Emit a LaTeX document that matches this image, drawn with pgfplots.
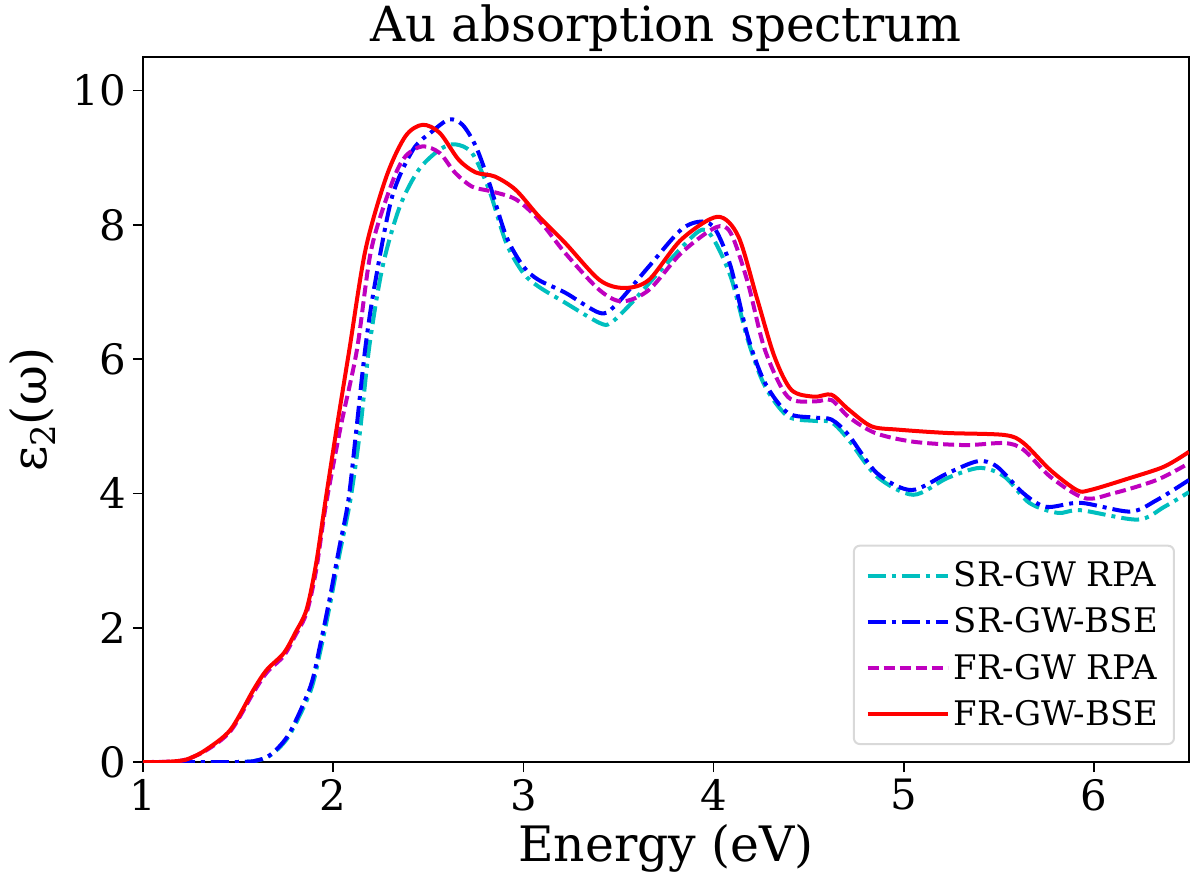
\documentclass[border=0pt]{standalone}
\usepackage{fontspec}
\setmainfont{DejaVu Serif}
\usepackage{pgfplots}
\pgfplotsset{compat=1.18}
\usetikzlibrary{calc}

\definecolor{mc}{rgb}{0,0.75,0.75}
\definecolor{mb}{rgb}{0,0,1}
\definecolor{mm}{rgb}{0.75,0,0.75}
\definecolor{mr}{rgb}{1,0,0}

\tikzset{
  dashdot/.style={dash pattern=on 9bp off 3bp on 2bp off 3bp},
  mpldashed/.style={dash pattern=on 5.5bp off 2.5bp},
}

\begin{document}
\begin{tikzpicture}
\begin{axis}[
    name=ax,
    scale only axis,
    width=523bp, height=352.5bp,
    xmin=1, xmax=6.5,
    ymin=0, ymax=10.5,
    xtick={1,2,3,4,5,6},
    ytick={0,2,4,6,8,10},
    tick align=outside,
    tick pos=left,
    major tick length=5bp,
    every tick/.style={black, line width=0.8bp},
    axis line style={line width=0.8bp},
    /pgf/number format/assume math mode=true,
    tick label style={font=\fontsize{21}{21}\selectfont},
    title={Au absorption spectrum},
    title style={font=\fontsize{24.3}{24.3}\selectfont, yshift=-7bp},
    xlabel={Energy (eV)},
    xlabel style={font=\fontsize{24.5}{24.5}\selectfont},
    ylabel={ε\raisebox{-0.35ex}{\fontsize{17}{17}\selectfont 2}(ω)},
    ylabel style={font=\fontsize{24.5}{24.5}\selectfont, yshift=2bp},
    legend style={
        at={(0.9866,0.024)}, anchor=south east,
        draw=black!15, line width=1bp, rounded corners=3bp,
        fill=white, font=\fontsize{17}{20}\selectfont,
        row sep=5bp, inner xsep=6bp, inner ysep=6bp,
    },
    legend cell align=left,
    legend image code/.code={\draw[#1] (0bp,0bp) -- (32bp,0bp); \path (0bp,0bp) -- (40bp,0bp);},
    every axis plot/.append style={line width=2bp},
]

% SR-GW RPA
\addplot[mc, dashdot, smooth, tension=0.5] coordinates {
(1.0,0)(1.5,0.0)(1.61,0.03)(1.68,0.12)(1.77,0.40)(1.88,1.05)(1.93,1.62)(1.98,2.30)
(2.03,3.05)(2.09,3.9)(2.14,4.9)(2.19,6.19)(2.26,7.38)(2.35,8.27)(2.45,8.82)(2.56,9.12)
(2.64,9.20)(2.73,9.07)(2.82,8.52)(2.91,7.73)(3.0,7.28)(3.08,7.08)(3.22,6.84)(3.40,6.54)
(3.46,6.54)(3.57,6.84)(3.74,7.38)(3.92,7.90)(3.99,7.83)(4.09,7.23)(4.18,6.29)(4.27,5.60)
(4.39,5.15)(4.53,5.08)(4.62,5.06)(4.71,4.80)(4.86,4.25)(5.05,3.98)(5.23,4.23)(5.40,4.38)
(5.53,4.25)(5.66,3.86)(5.81,3.71)(5.93,3.75)(6.23,3.61)(6.37,3.80)(6.5,4.02)
};
\addlegendentry{SR-GW RPA}

% SR-GW-BSE
\addplot[mb, dashdot, smooth, tension=0.5] coordinates {
(1.0,0)(1.5,0.0)(1.61,0.03)(1.68,0.13)(1.77,0.43)(1.88,1.12)(1.93,1.72)(1.98,2.41)
(2.03,3.16)(2.08,3.9)(2.12,4.9)(2.17,6.19)(2.22,7.13)(2.31,8.42)(2.42,9.12)(2.52,9.39)
(2.61,9.57)(2.68,9.49)(2.75,9.17)(2.82,8.63)(2.91,7.83)(3.0,7.38)(3.08,7.18)(3.22,6.99)
(3.40,6.69)(3.48,6.79)(3.66,7.38)(3.83,7.93)(3.94,8.05)(4.01,7.93)(4.09,7.38)(4.18,6.34)
(4.27,5.65)(4.39,5.20)(4.53,5.13)(4.62,5.10)(4.71,4.87)(4.86,4.30)(5.04,4.05)(5.23,4.30)
(5.39,4.48)(5.49,4.40)(5.63,4.0)(5.75,3.80)(5.93,3.86)(6.19,3.73)(6.33,3.90)(6.5,4.2)
};
\addlegendentry{SR-GW-BSE}

% FR-GW RPA
\addplot[mm, mpldashed, smooth, tension=0.5] coordinates {
(1.0,0)(1.2,0.02)(1.33,0.17)(1.46,0.46)(1.58,1.03)(1.65,1.33)(1.74,1.58)(1.80,1.88)
(1.86,2.22)(1.91,2.85)(1.96,3.8)(2.04,5.0)(2.125,6.14)(2.20,7.63)(2.31,8.63)(2.38,9.02)
(2.47,9.17)(2.56,9.07)(2.64,8.78)(2.73,8.57)(2.83,8.50)(2.96,8.38)(3.08,8.08)(3.22,7.58)
(3.40,7.03)(3.52,6.86)(3.66,7.03)(3.83,7.58)(4.01,7.96)(4.09,7.88)(4.18,7.14)(4.27,6.14)
(4.39,5.44)(4.53,5.37)(4.62,5.39)(4.71,5.14)(4.85,4.90)(5.05,4.77)(5.32,4.72)(5.53,4.75)
(5.63,4.65)(5.77,4.25)(5.95,3.93)(6.10,4.0)(6.33,4.20)(6.5,4.45)
};
\addlegendentry{FR-GW RPA}

% FR-GW-BSE
\addplot[mr, smooth, tension=0.5] coordinates {
(1.0,0)(1.1,0.0)(1.2,0.02)(1.25,0.06)(1.33,0.18)(1.46,0.48)(1.58,1.07)(1.65,1.37)
(1.74,1.62)(1.80,1.92)(1.86,2.27)(1.91,2.95)(1.96,3.9)(2.02,5.0)(2.085,6.14)(2.17,7.63)
(2.28,8.72)(2.38,9.32)(2.47,9.49)(2.56,9.37)(2.66,8.97)(2.75,8.78)(2.85,8.72)(2.96,8.52)
(3.08,8.13)(3.22,7.73)(3.40,7.18)(3.53,7.06)(3.66,7.18)(3.83,7.78)(4.02,8.12)(4.13,7.83)
(4.23,6.89)(4.32,6.04)(4.41,5.54)(4.53,5.44)(4.62,5.47)(4.71,5.25)(4.83,5.0)(4.97,4.95)
(5.23,4.90)(5.53,4.87)(5.63,4.75)(5.77,4.35)(5.91,4.05)(5.98,4.05)(6.19,4.23)(6.37,4.40)
(6.5,4.62)
};
\addlegendentry{FR-GW-BSE}

\end{axis}
\pgfresetboundingbox
\path[use as bounding box] ($(ax.south west)+(-71.5bp,-61bp)$) rectangle ($(ax.north east)+(1bp,28.5bp)$);
\end{tikzpicture}
\end{document}
